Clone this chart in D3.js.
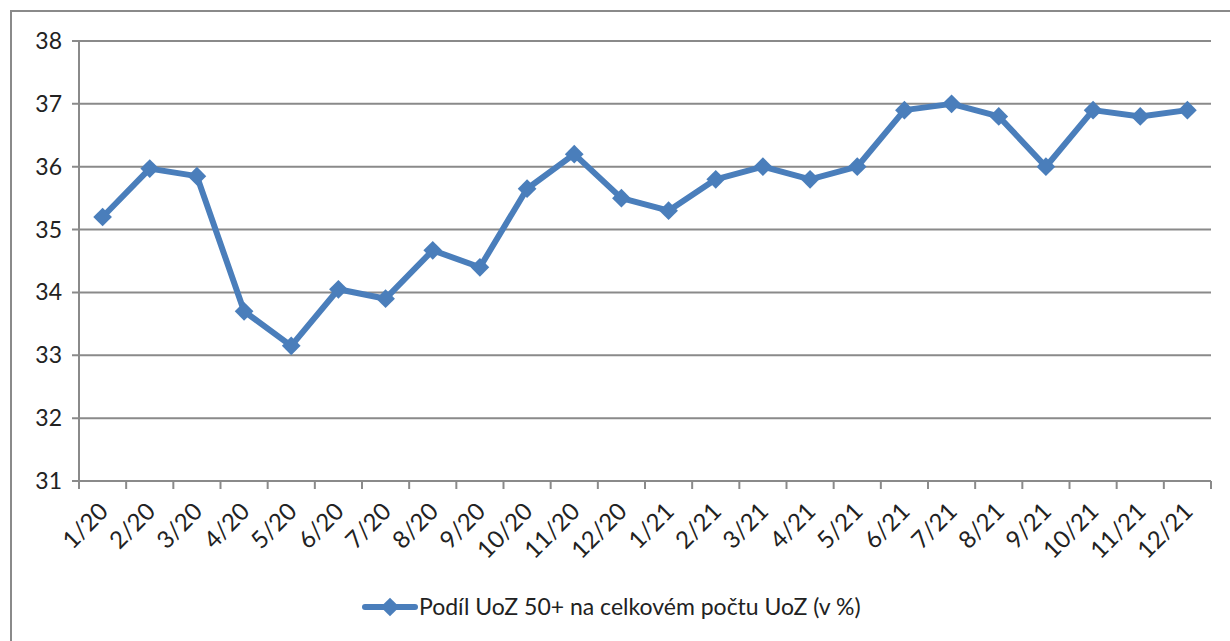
<!DOCTYPE html>
<html>
<head>
<meta charset="utf-8">
<title>Podíl UoZ 50+</title>
<script src="https://d3js.org/d3.v7.min.js"></script>
<style>
  body { margin: 0; background: #fff; }
  text { font-family: Lato, "Open Sans", sans-serif; fill: #222; }
</style>
</head>
<body>
<div id="chart"></div>
<script>
// data
var months = ["1/20","2/20","3/20","4/20","5/20","6/20","7/20","8/20","9/20","10/20","11/20","12/20",
              "1/21","2/21","3/21","4/21","5/21","6/21","7/21","8/21","9/21","10/21","11/21","12/21"];
var share = [35.2, 35.97, 35.85, 33.7, 33.15, 34.05, 33.9, 34.67, 34.4, 35.65, 36.2, 35.5,
             35.3, 35.8, 36.0, 35.8, 36.0, 36.9, 37.0, 36.8, 36.0, 36.9, 36.8, 36.9];
var yTicks = [31, 32, 33, 34, 35, 36, 37, 38];
var seriesName = "Podíl UoZ 50+ na celkovém počtu UoZ (v %)";

var W = 1230, H = 641;
var pL = 79, pR = 1211, pT = 41, pB = 481;
var blue = "#4a7ebb", grey = "#8a8a8a";

var svg = d3.select("#chart").append("svg").attr("width", W).attr("height", H);

// outer frame (cropped on right/bottom)
svg.append("path")
  .attr("d", "M11," + (H + 5) + "V11H" + (W + 5))
  .attr("fill", "none").attr("stroke", grey).attr("stroke-width", 2);

var x = d3.scaleBand().domain(months).range([pL, pR]);
var y = d3.scaleLinear().domain([31, 38]).range([pB, pT]);

// gridlines
svg.append("g").selectAll("line").data(yTicks).enter().append("line")
  .attr("x1", pL - 7).attr("x2", pR)
  .attr("y1", function (d) { return y(d); }).attr("y2", function (d) { return y(d); })
  .attr("stroke", grey).attr("stroke-width", 2);

// y axis
svg.append("line").attr("x1", pL).attr("x2", pL).attr("y1", pT).attr("y2", pB)
  .attr("stroke", grey).attr("stroke-width", 2);
svg.append("g").selectAll("text").data(yTicks).enter().append("text")
  .attr("x", 62).attr("y", function (d) { return y(d) + 8; })
  .attr("text-anchor", "end").style("font-size", "23px")
  .text(function (d) { return d; });

// x axis ticks
var bounds = months.map(function (m) { return x(m); }).concat([pR]);
svg.append("g").selectAll("line").data(bounds).enter().append("line")
  .attr("x1", function (d) { return d; }).attr("x2", function (d) { return d; })
  .attr("y1", pB).attr("y2", pB + 8)
  .attr("stroke", grey).attr("stroke-width", 2);

svg.append("g").selectAll("text").data(months).enter().append("text")
  .attr("transform", function (d) {
    return "translate(" + (x(d) + x.bandwidth() / 2 + 7) + "," + (pB + 32) + ") rotate(-45)";
  })
  .attr("text-anchor", "end").style("font-size", "24px")
  .text(function (d) { return d; });

// series line
var pts = months.map(function (m, i) { return [x(m) + x.bandwidth() / 2, y(share[i])]; });
svg.append("path")
  .attr("d", d3.line()(pts))
  .attr("fill", "none").attr("stroke", blue).attr("stroke-width", 6)
  .attr("stroke-linejoin", "round");

var marker = d3.symbol().type(d3.symbolSquare).size(175);
svg.append("g").selectAll("path").data(pts).enter().append("path")
  .attr("transform", function (d) { return "translate(" + d[0] + "," + d[1] + ") rotate(45)"; })
  .attr("d", marker)
  .attr("fill", blue);

// legend
var ly = 607;
svg.append("line").attr("x1", 365).attr("x2", 415).attr("y1", ly).attr("y2", ly)
  .attr("stroke", blue).attr("stroke-width", 6).attr("stroke-linecap", "round");
svg.append("path")
  .attr("transform", "translate(390," + ly + ") rotate(45)")
  .attr("d", marker)
  .attr("fill", blue);
svg.append("text").attr("x", 419).attr("y", ly + 8)
  .style("font-size", "23px").text(seriesName);
</script>
</body>
</html>
